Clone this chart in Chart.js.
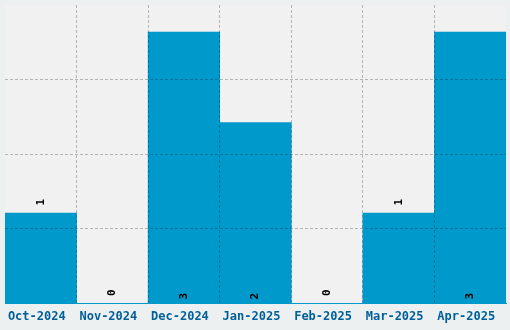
<!DOCTYPE html>
<html>
<head>
<meta charset="utf-8">
<script src="https://cdn.jsdelivr.net/npm/chart.js@4"></script>
<style>
  html, body { margin: 0; padding: 0; background: #ecf0f1; }
  #wrap { width: 510px; height: 330px; }
</style>
</head>
<body>
<div id="wrap"><canvas id="monthChart" width="510" height="330"></canvas></div>
<script>
// --- data ---
const months = ["Oct-2024", "Nov-2024", "Dec-2024", "Jan-2025", "Feb-2025", "Mar-2025", "Apr-2025"];
const counts = [1, 0, 3, 2, 0, 1, 3];

const BAR_COLOR = "#0099cc";
const GRID_COLOR = "rgba(0, 0, 0, 0.25)";

// paint the plot area grey before anything else
const plotBackground = {
    id: "plotBackground",
    beforeDraw(chart) {
        const { ctx, chartArea: a } = chart;
        ctx.save();
        ctx.fillStyle = "#f1f1f1";
        ctx.fillRect(a.left, a.top, a.right - a.left, a.bottom - a.top);
        ctx.restore();
    }
};

// rotated value labels: inside at the base for tall bars, above the top for short ones
const valueLabels = {
    id: "valueLabels",
    afterDraw(chart) {
        const { ctx } = chart;
        const meta = chart.getDatasetMeta(0);
        const maxVal = Math.max(...counts);
        ctx.save();
        ctx.font = "bold 11px 'DejaVu Sans Mono', monospace";
        ctx.fillStyle = "#000";
        ctx.textAlign = "center";
        ctx.textBaseline = "middle";
        meta.data.forEach((bar, i) => {
            const v = counts[i];
            const y = v / maxVal > 0.5 ? bar.base - 7 : bar.y - 11;
            ctx.save();
            ctx.translate(bar.x, y);
            ctx.rotate(-Math.PI / 2);
            ctx.fillText(String(v), 0, 0);
            ctx.restore();
        });
        ctx.restore();
    }
};

new Chart(document.getElementById("monthChart"), {
    type: "bar",
    data: {
        labels: months,
        datasets: [{
            data: counts,
            backgroundColor: BAR_COLOR,
            borderWidth: 0,
            barPercentage: 1,
            categoryPercentage: 1
        }]
    },
    options: {
        responsive: false,
        animation: false,
        layout: { padding: { left: 5, right: 4, top: 5, bottom: 0 } },
        plugins: {
            legend: { display: false },
            tooltip: { enabled: false }
        },
        scales: {
            x: {
                grid: {
                    z: 1,
                    offset: true,
                    drawTicks: false,
                    color: c => (c.index > 0 ? GRID_COLOR : "transparent"),
                    lineWidth: 1
                },
                border: { display: true, color: BAR_COLOR, width: 1, dash: [3, 2], z: 2 },
                ticks: {
                    color: "#005f99",
                    font: { family: "'DejaVu Sans Mono', monospace", size: 12, weight: "bold" },
                    padding: 6,
                    labelOffset: -4,
                    maxRotation: 0,
                    autoSkip: false
                }
            },
            y: {
                min: 0,
                max: Math.max(...counts) * 1.1,
                grid: {
                    z: 1,
                    drawTicks: false,
                    color: c => (c.index > 0 && c.index < 4 ? GRID_COLOR : "transparent"),
                    lineWidth: 1
                },
                border: { display: false, dash: [3, 2] },
                ticks: { display: false, count: 5 }
            }
        }
    },
    plugins: [plotBackground, valueLabels]
});
</script>
</body>
</html>
